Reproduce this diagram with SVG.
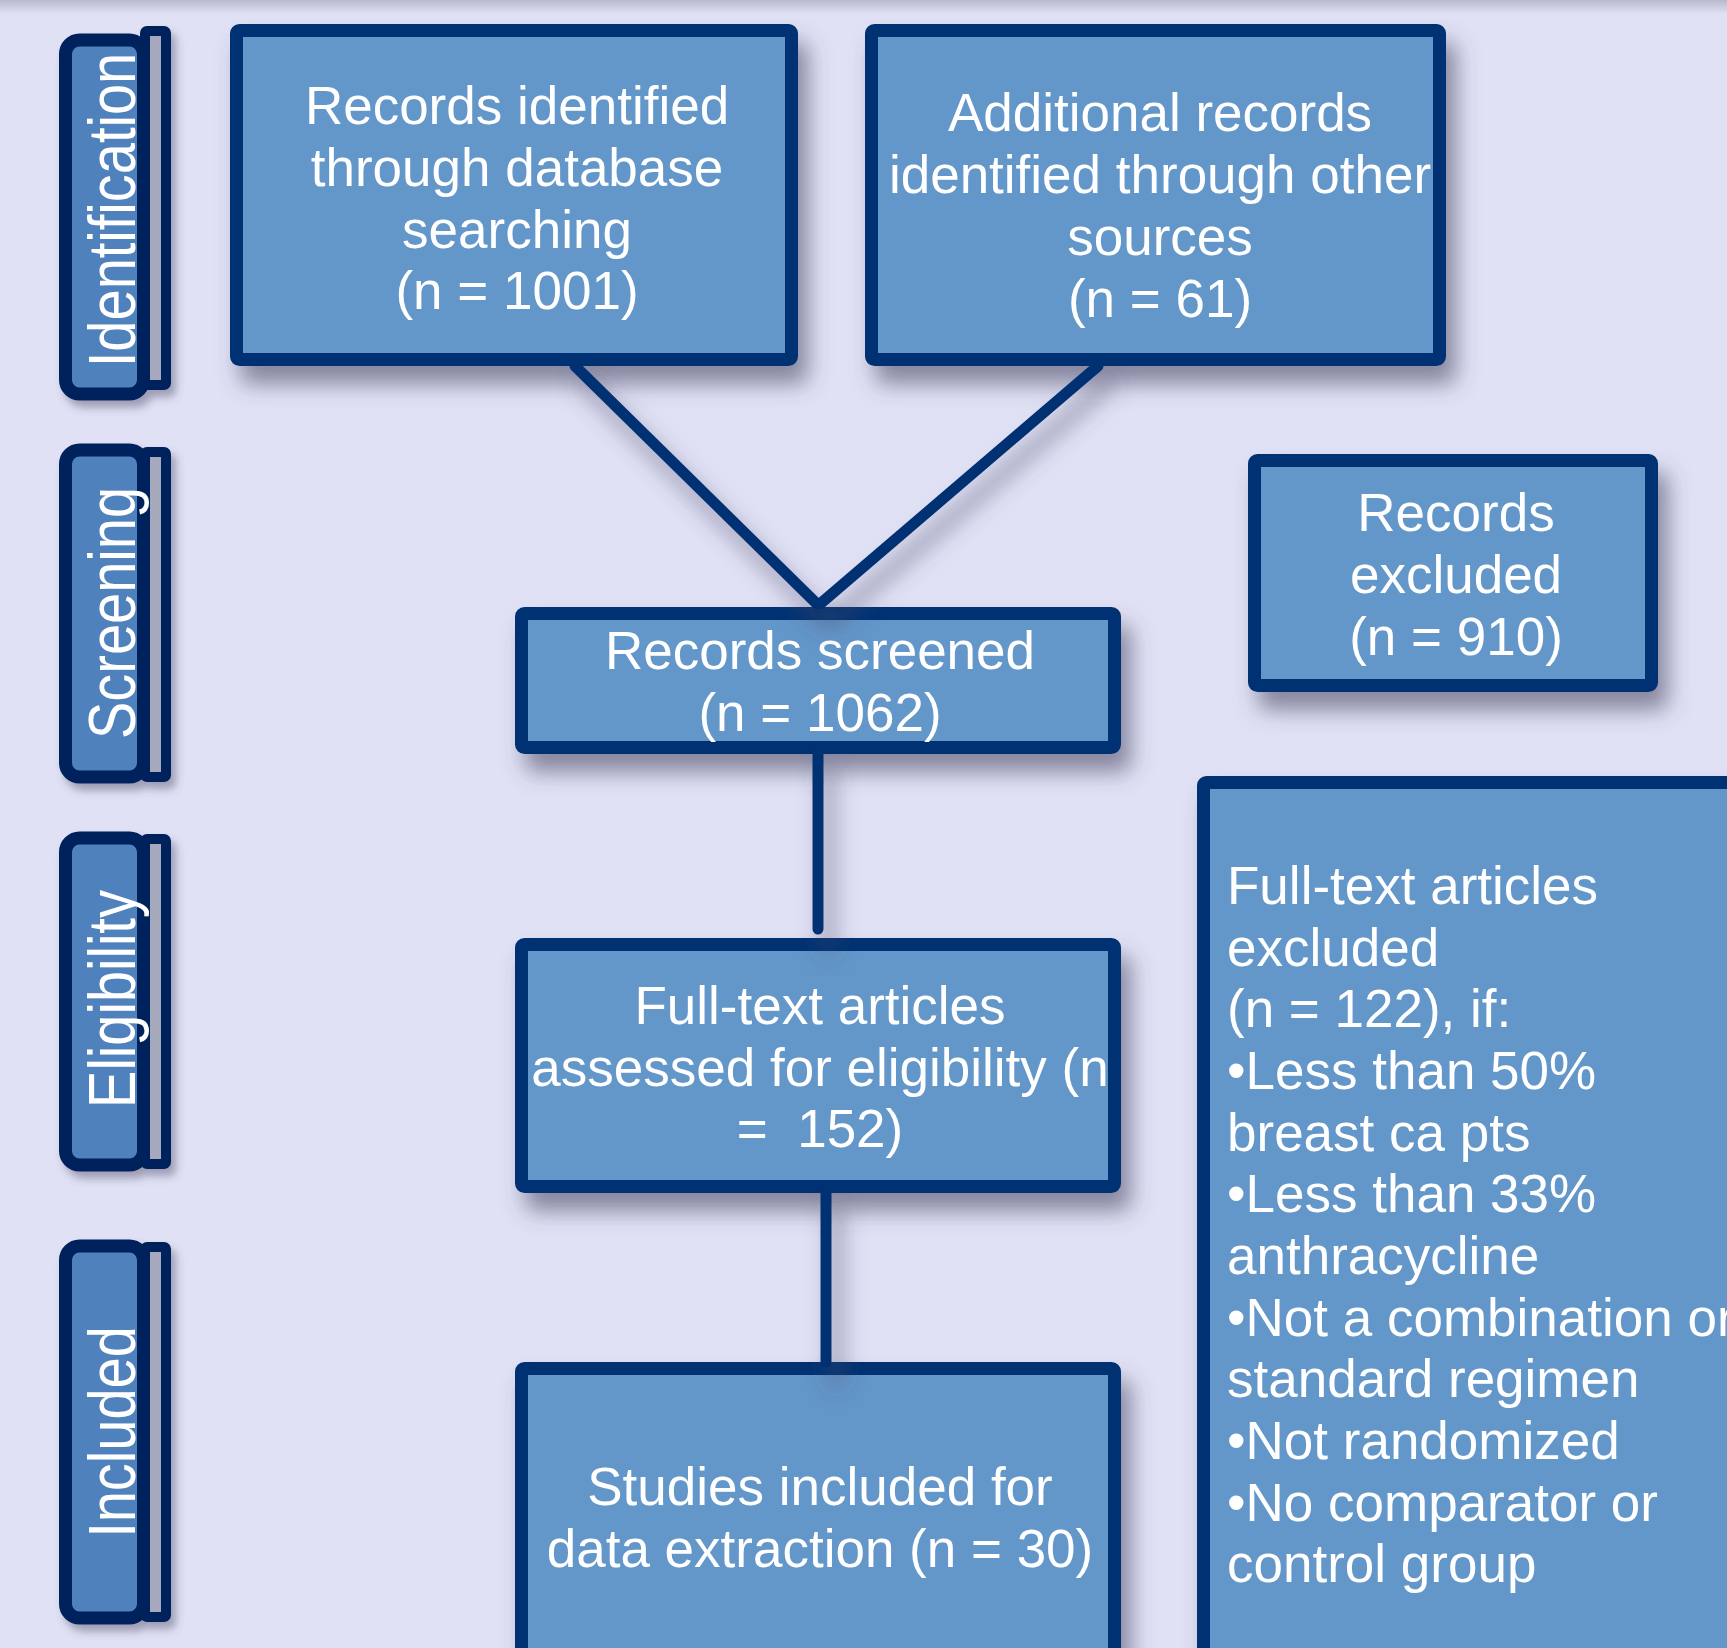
<svg xmlns="http://www.w3.org/2000/svg" width="1727" height="1648" viewBox="0 0 1727 1648">
  <defs>
    <linearGradient id="topband" x1="0" y1="0" x2="0" y2="1">
      <stop offset="0" stop-color="#B9B9CD"/>
      <stop offset="1" stop-color="#E0E1F5"/>
    </linearGradient>
    <filter id="shadow" filterUnits="userSpaceOnUse" x="0" y="0" width="1727" height="1648">
      <feGaussianBlur in="SourceAlpha" stdDeviation="11"/>
      <feOffset dx="10" dy="18" result="blur"/>
      <feFlood flood-color="#4A4A66" flood-opacity="0.6"/>
      <feComposite in2="blur" operator="in" result="sh"/>
      <feMerge>
        <feMergeNode in="sh"/>
        <feMergeNode in="SourceGraphic"/>
      </feMerge>
    </filter>
    <filter id="tabshadow" filterUnits="userSpaceOnUse" x="0" y="0" width="1727" height="1648">
      <feGaussianBlur in="SourceAlpha" stdDeviation="4"/>
      <feOffset dx="5" dy="7" result="blur"/>
      <feFlood flood-color="#4A4A66" flood-opacity="0.45"/>
      <feComposite in2="blur" operator="in" result="sh"/>
      <feMerge>
        <feMergeNode in="sh"/>
        <feMergeNode in="SourceGraphic"/>
      </feMerge>
    </filter>
  </defs>
  <style>
    .box { fill: #6396C9; stroke: #003073; stroke-width: 13; }
    .lbl { font-family: "Liberation Sans", Arial, sans-serif; font-size: 53px; fill: #FFFFFF; }
    .c { text-anchor: middle; }
    .tabfront { fill: #4F81BD; stroke: #00205C; stroke-width: 13; }
    .tabback { fill: #A6A8BC; stroke: #00205C; stroke-width: 10; }
    .tabtxt { font-family: "Liberation Sans", Arial, sans-serif; font-size: 56px; fill: #FFFFFF; text-anchor: middle; }
    .conn { stroke: #003073; stroke-width: 11; fill: none; stroke-linecap: round; }
  </style>

  <rect x="0" y="0" width="1727" height="1648" fill="#E0E1F5"/>
  <rect x="0" y="0" width="1727" height="14" fill="url(#topband)"/>

  <!-- Phase tabs -->
  <g id="tab-identification" filter="url(#tabshadow)">
    <rect class="tabback" x="145" y="31" width="21" height="354" rx="2"/>
    <rect class="tabfront" x="65.5" y="40" width="78" height="354" rx="14"/>
    <text class="tabtxt" transform="translate(135,210) rotate(-90) scale(1,1.2)">Identification</text>
  </g>
  <g id="tab-screening" filter="url(#tabshadow)">
    <rect class="tabback" x="145" y="452" width="21" height="325" rx="2"/>
    <rect class="tabfront" x="65.5" y="450" width="78" height="327" rx="14"/>
    <text class="tabtxt" transform="translate(135,613) rotate(-90) scale(1,1.2)">Screening</text>
  </g>
  <g id="tab-eligibility" filter="url(#tabshadow)">
    <rect class="tabback" x="145" y="839" width="21" height="325" rx="2"/>
    <rect class="tabfront" x="65.5" y="838" width="78" height="327" rx="14"/>
    <text class="tabtxt" transform="translate(135,999) rotate(-90) scale(1,1.2)">Eligibility</text>
  </g>
  <g id="tab-included" filter="url(#tabshadow)">
    <rect class="tabback" x="145" y="1247" width="21" height="370" rx="2"/>
    <rect class="tabfront" x="65.5" y="1246" width="78" height="372" rx="14"/>
    <text class="tabtxt" transform="translate(135,1432) rotate(-90) scale(1,1.2)">Included</text>
  </g>

  <!-- Nodes -->
  <g id="node-database" filter="url(#shadow)">
    <rect class="box" x="236.5" y="30.5" width="555" height="329" rx="3"/>
    <text class="lbl c" x="517" y="124">Records identified</text>
    <text class="lbl c" x="517" y="186">through database</text>
    <text class="lbl c" x="517" y="248">searching</text>
    <text class="lbl c" x="517" y="309">(n = 1001)</text>
  </g>
  <g id="node-other" filter="url(#shadow)">
    <rect class="box" x="871.5" y="30.5" width="568" height="329" rx="3"/>
    <text class="lbl c" x="1160" y="131">Additional records</text>
    <text class="lbl c" x="1160" y="193">identified through other</text>
    <text class="lbl c" x="1160" y="255">sources</text>
    <text class="lbl c" x="1160" y="317">(n = 61)</text>
  </g>
  <g id="node-excluded" filter="url(#shadow)">
    <rect class="box" x="1254.5" y="460.5" width="397" height="225" rx="3"/>
    <text class="lbl c" x="1456" y="531">Records</text>
    <text class="lbl c" x="1456" y="593">excluded</text>
    <text class="lbl c" x="1456" y="655">(n = 910)</text>
  </g>
  <g id="node-screened" filter="url(#shadow)">
    <rect class="box" x="521.5" y="613.5" width="593" height="134" rx="3"/>
    <text class="lbl c" x="820" y="669">Records screened</text>
    <text class="lbl c" x="820" y="731">(n = 1062)</text>
  </g>
  <g id="node-fulltext-excluded" filter="url(#shadow)">
    <rect class="box" x="1203.5" y="782.5" width="600" height="900" rx="3"/>
    <text class="lbl" x="1227" y="904">Full-text articles</text>
    <text class="lbl" x="1227" y="965.5">excluded</text>
    <text class="lbl" x="1227" y="1027">(n = 122), if:</text>
    <text class="lbl" x="1227" y="1089">•Less than 50%</text>
    <text class="lbl" x="1227" y="1150.5">breast ca pts</text>
    <text class="lbl" x="1227" y="1212">•Less than 33%</text>
    <text class="lbl" x="1227" y="1274">anthracycline</text>
    <text class="lbl" x="1227" y="1335.5">•Not a combination or</text>
    <text class="lbl" x="1227" y="1397">standard regimen</text>
    <text class="lbl" x="1227" y="1459">•Not randomized</text>
    <text class="lbl" x="1227" y="1520.5">•No comparator or</text>
    <text class="lbl" x="1227" y="1582">control group</text>
  </g>
  <g id="node-assessed" filter="url(#shadow)">
    <rect class="box" x="521.5" y="944.5" width="593" height="242" rx="3"/>
    <text class="lbl c" x="820" y="1024">Full-text articles</text>
    <text class="lbl c" x="820" y="1085.5" xml:space="preserve">assessed for eligibility (n</text>
    <text class="lbl c" x="820" y="1147" xml:space="preserve">=  152)</text>
  </g>
  <g id="node-included" filter="url(#shadow)">
    <rect class="box" x="521.5" y="1368.5" width="593" height="320" rx="3"/>
    <text class="lbl c" x="820" y="1505">Studies included for</text>
    <text class="lbl c" x="820" y="1567">data extraction (n = 30)</text>
  </g>

  <!-- Connectors -->
  <g id="connectors" filter="url(#shadow)">
    <line class="conn" x1="575" y1="366" x2="817" y2="604"/>
    <line class="conn" x1="1098" y1="366" x2="820" y2="604"/>
    <line class="conn" x1="818" y1="754" x2="818" y2="929"/>
    <line class="conn" x1="826" y1="1193" x2="826" y2="1362"/>
  </g>
</svg>
